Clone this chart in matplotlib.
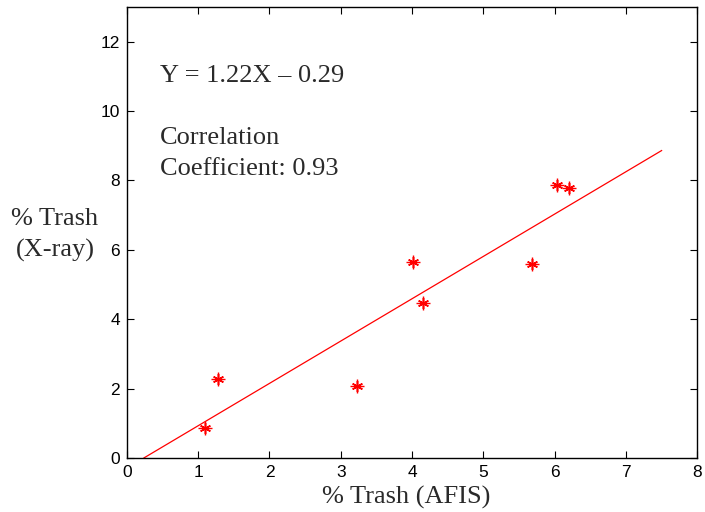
import numpy as np
import matplotlib
matplotlib.use('Agg')
import matplotlib.pyplot as plt

# measured points (% trash)
afis = [1.10, 1.28, 3.23, 4.02, 4.15, 5.68, 6.03, 6.20]
xray = [0.87, 2.27, 2.08, 5.65, 4.48, 5.58, 7.88, 7.78]

# fitted line Y = slope*X + intercept
slope = 1.22
intercept = -0.29
fit_x = [0.24, 7.5]

xticks = [0, 1, 2, 3, 4, 5, 6, 7, 8]
yticks = [0, 2, 4, 6, 8, 10, 12]

fig = plt.figure(figsize=(7.05, 5.12), dpi=100)
ax = fig.add_axes([0.180, 0.1055, 0.809, 0.881])

fx = np.array(fit_x)
ax.plot(fx, slope * fx + intercept, color='red', lw=0.9)
ax.plot(afis, xray, ls='none', marker=(6, 2, 0), ms=8, mew=1.1, color='red')
ax.plot(afis, xray, ls='none', marker='+', ms=10, mew=1.0, color='red')

ax.set_xlim(0, 8)
ax.set_ylim(0, 13)
ax.set_xticks(xticks)
ax.set_yticks(yticks)
ax.tick_params(direction='in', top=True, right=True, length=5, labelsize=12.5, pad=5)
for lab in ax.get_xticklabels() + ax.get_yticklabels():
    lab.set_family('Liberation Sans')
for s in ax.spines.values():
    s.set_linewidth(1.0)

serif = 'Liberation Serif'
tc = '#2a2a2a'
ax.set_xlabel('% Trash (AFIS)', family=serif, fontsize=19, color=tc)
ax.xaxis.set_label_coords(0.49, -0.063, transform=ax.transAxes)
ax.xaxis.label.set_va('top')
fig.text(0.078, 0.541, '% Trash\n(X-ray)', family=serif, fontsize=19,
         ha='center', va='center', linespacing=1.5, color=tc)

ax.text(0.46, 11.0, 'Y = 1.22X \u2013 0.29', family=serif, fontsize=19, va='center', color=tc)
ax.text(0.46, 8.77, 'Correlation\nCoefficient: 0.93', family=serif, fontsize=19,
        va='center', linespacing=1.5, color=tc)

fig.savefig('out.png', dpi=100)
